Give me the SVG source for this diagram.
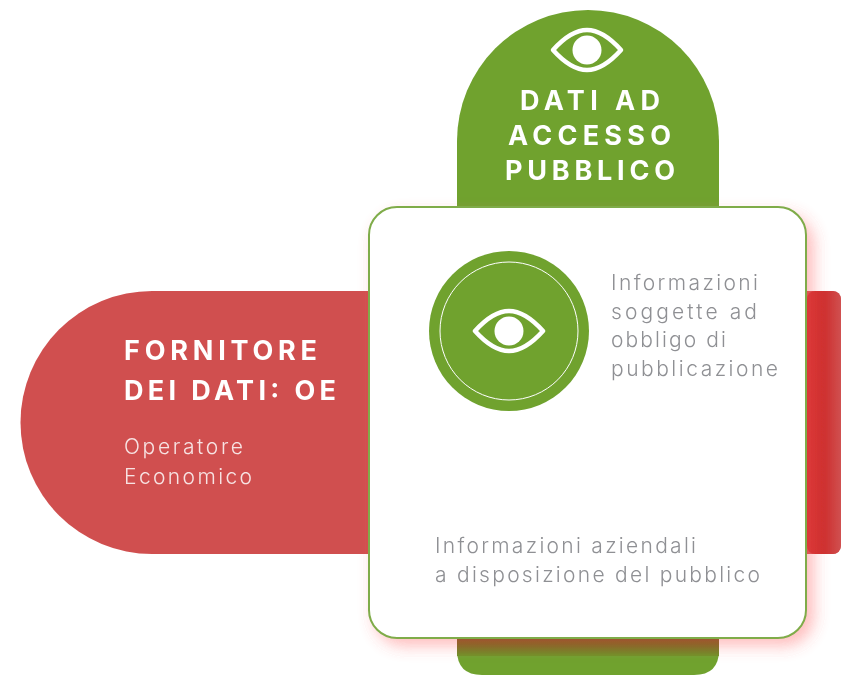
<svg xmlns="http://www.w3.org/2000/svg" width="841" height="677" viewBox="0 0 841 677">
<style>
text{font-family:"Inter","Liberation Sans",sans-serif}
.h{font-weight:700;font-size:27px;fill:#fff}
.w{font-weight:300;font-size:21px;fill:#f7e3e3}
.g{font-weight:300;font-size:21px;fill:#8f9094}
.eye{fill:none;stroke:#fff;stroke-width:4.5;stroke-linejoin:round}
</style>
<defs>
<filter id="soft" x="0" y="0" width="100%" height="100%"><feGaussianBlur stdDeviation="0.6"/></filter>
<filter id="glow" x="-15%" y="-15%" width="130%" height="130%"><feGaussianBlur stdDeviation="8"/></filter>
<linearGradient id="redR" x1="807" x2="841" y1="0" y2="0" gradientUnits="userSpaceOnUse"><stop offset="0" stop-color="#cc2a2a"/><stop offset=".5" stop-color="#cd2f2e"/><stop offset="1" stop-color="#d05050"/></linearGradient>
<linearGradient id="grnB" x1="0" x2="0" y1="639" y2="660" gradientUnits="userSpaceOnUse"><stop offset="0" stop-color="#6e5418"/><stop offset="1" stop-color="#6fa22f"/></linearGradient>
<symbol id="eyeIcon" overflow="visible"><path class="eye" d="M-34 0Q-16-20 0-20T34 0Q16 20 0 20T-34 0Z"/><circle r="14.5" fill="#fff"/></symbol>
</defs>
<g filter="url(#soft)">
<g id="fornitore">
<path d="M152 291H831Q841 291 841 301V544Q841 554 831 554H152A131.500 131.500 0 0 1 152 291Z" fill="#d05050"/>
<rect x="807" y="291" width="34" height="263" fill="url(#redR)" rx="8"/>
<text class="h" x="124" y="360" textLength="193">FORNITORE</text>
<text class="h" x="124" y="400" textLength="212">DEI DATI: OE</text>
<text class="w" x="124" y="454" textLength="119">Operatore</text>
<text class="w" x="124" y="484" textLength="128">Economico</text>
</g>
<g id="dati-accesso">
<path d="M457 141A131 131 0 0 1 719 141V650Q719 675 694 675H482Q457 675 457 650Z" fill="#6fa22f"/>
<rect x="457" y="630" width="262" height="26" fill="url(#grnB)"/>
<use href="#eyeIcon" x="587" y="50"/>
<text class="h" x="520" y="110" textLength="140">DATI AD</text>
<text class="h" x="508" y="145" textLength="163">ACCESSO</text>
<text class="h" x="505" y="180" textLength="170">PUBBLICO</text>
</g>
<g id="card">
<rect x="374" y="214" width="440" height="432" rx="30" fill="#ff5a5a" opacity=".4" filter="url(#glow)"/>
<path d="M369 600V235A28 28 0 0 1 397 207H778A28 28 0 0 1 806 235V610A28 28 0 0 1 778 638H397A28 28 0 0 1 369 610Z" fill="#fff" stroke="#7fac4a" stroke-width="2"/>
<text class="g" x="611" y="290" textLength="147">Informazioni</text>
<text class="g" x="611" y="319" textLength="146">soggette ad</text>
<text class="g" x="611" y="347" textLength="115">obbligo di</text>
<text class="g" x="611" y="376" textLength="167">pubblicazione</text>
<text class="g" x="435" y="553" textLength="261">Informazioni aziendali</text>
<text class="g" x="435" y="582" textLength="325">a disposizione del pubblico</text>
</g>
<g id="icona">
<circle cx="509" cy="331" r="80" fill="#6fa22f"/>
<circle cx="509" cy="331" r="69" fill="none" stroke="#fff" stroke-width="1"/>
<use href="#eyeIcon" x="509" y="331"/>
</g>
<g id="connectors"/>
</g>
</svg>
